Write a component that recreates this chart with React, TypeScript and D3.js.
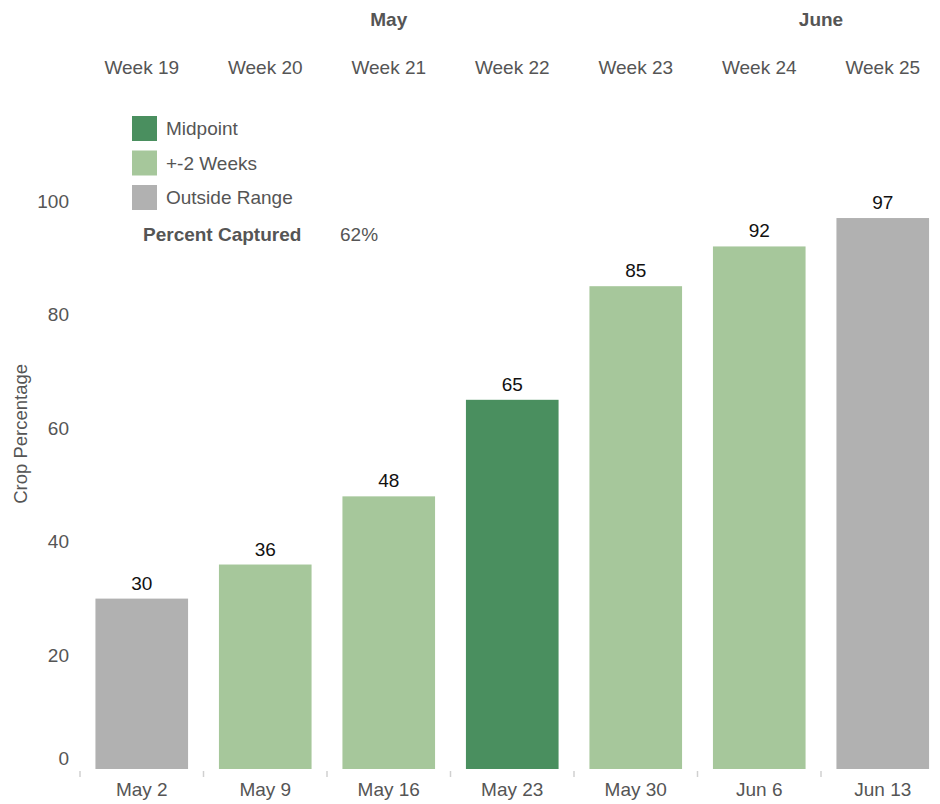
import React, { useRef, useEffect } from 'react';
import * as d3 from 'd3';

const dates = ['May 2', 'May 9', 'May 16', 'May 23', 'May 30', 'Jun 6', 'Jun 13'];
const weeks = ['Week 19', 'Week 20', 'Week 21', 'Week 22', 'Week 23', 'Week 24', 'Week 25'];
const months = ['May', 'May', 'May', 'May', 'May', 'June', 'June'];
const values = [30, 36, 48, 65, 85, 92, 97];
const groups = ['Outside Range', '+-2 Weeks', '+-2 Weeks', 'Midpoint', '+-2 Weeks', '+-2 Weeks', 'Outside Range'];
const legendItems = ['Midpoint', '+-2 Weeks', 'Outside Range'];
const legendColors = ['#4a8f5f', '#a6c79b', '#b1b1b1'];
const yTicks = [0, 20, 40, 60, 80, 100];
const percentCaptured = '62%';

export default function App() {
    const svgRef = useRef<SVGSVGElement | null>(null);

    useEffect(() => {
        const width = 940;
        const height = 804;
        const font = 'Liberation Sans, Arial, sans-serif';
        const grey = '#555555';
        const fs = 19;

        d3.select(svgRef.current).selectAll('*').remove();

        const svg = d3.select(svgRef.current).attr('width', width).attr('height', height);

        const x = d3
            .scaleBand()
            .domain(dates)
            .range([80, 944.5])
            .paddingInner(0.25)
            .paddingOuter(0.125);

        const y = d3.scaleLinear().domain([0, 100]).range([769, 201]);

        const color = d3.scaleOrdinal<string, string>().domain(legendItems).range(legendColors);

        // bars
        svg.selectAll('rect.bar')
            .data(values)
            .join('rect')
            .attr('class', 'bar')
            .attr('x', (_, i) => x(dates[i])!)
            .attr('y', (d) => y(d))
            .attr('width', x.bandwidth())
            .attr('height', (d) => y(0) - y(d))
            .attr('fill', (_, i) => color(groups[i]));

        // value labels
        svg.selectAll('text.value')
            .data(values)
            .join('text')
            .attr('class', 'value')
            .attr('x', (_, i) => x(dates[i])! + x.bandwidth() / 2)
            .attr('y', (d) => y(d) - 9)
            .attr('text-anchor', 'middle')
            .attr('font-family', font)
            .attr('font-size', fs)
            .attr('fill', '#111')
            .text((d) => d);

        // x ticks at band boundaries
        const step = x.step();
        dates.forEach((d, i) => {
            const tx = x(d)! - (step - x.bandwidth()) / 2;
            svg.append('line')
                .attr('x1', tx)
                .attr('x2', tx)
                .attr('y1', 771)
                .attr('y2', 777)
                .attr('stroke', '#d0d0d0')
                .attr('stroke-width', 1.5);
            svg.append('text')
                .attr('x', x(d)! + x.bandwidth() / 2)
                .attr('y', 796)
                .attr('text-anchor', 'middle')
                .attr('font-family', font)
                .attr('font-size', fs)
                .attr('fill', grey)
                .text(d);
            svg.append('text')
                .attr('x', x(d)! + x.bandwidth() / 2)
                .attr('y', 74)
                .attr('text-anchor', 'middle')
                .attr('font-family', font)
                .attr('font-size', fs)
                .attr('fill', grey)
                .text(weeks[i]);
        });

        // month headers
        const monthNames = Array.from(new Set(months));
        monthNames.forEach((m) => {
            const centers = dates
                .filter((_, i) => months[i] === m)
                .map((d) => x(d)! + x.bandwidth() / 2);
            svg.append('text')
                .attr('x', d3.mean(centers)!)
                .attr('y', 26)
                .attr('text-anchor', 'middle')
                .attr('font-family', font)
                .attr('font-size', fs)
                .attr('font-weight', 'bold')
                .attr('fill', grey)
                .text(m);
        });

        // y axis labels
        yTicks.forEach((t) => {
            svg.append('text')
                .attr('x', 69)
                .attr('y', t === 0 ? y(t) - 11 : y(t))
                .attr('dy', '0.35em')
                .attr('text-anchor', 'end')
                .attr('font-family', font)
                .attr('font-size', fs)
                .attr('fill', grey)
                .text(t);
        });

        svg.append('text')
            .attr('transform', `translate(27, ${y(59)}) rotate(-90)`)
            .attr('text-anchor', 'middle')
            .attr('font-family', font)
            .attr('font-size', 18.5)
            .attr('fill', grey)
            .text('Crop Percentage');

        // legend
        legendItems.forEach((item, i) => {
            const ly = 116 + i * 34.5;
            svg.append('rect')
                .attr('x', 132)
                .attr('y', ly)
                .attr('width', 25)
                .attr('height', 25)
                .attr('fill', color(item));
            svg.append('text')
                .attr('x', 166)
                .attr('y', ly + 12.5)
                .attr('dy', '0.35em')
                .attr('font-family', font)
                .attr('font-size', fs)
                .attr('fill', grey)
                .text(item);
        });

        svg.append('text')
            .attr('x', 143)
            .attr('y', 241)
            .attr('font-family', font)
            .attr('font-size', fs)
            .attr('font-weight', 'bold')
            .attr('fill', grey)
            .text('Percent Captured');

        svg.append('text')
            .attr('x', 340)
            .attr('y', 241)
            .attr('font-family', font)
            .attr('font-size', fs)
            .attr('fill', grey)
            .text(percentCaptured);
    }, []);

    return <svg ref={svgRef} style={{ position: 'absolute', left: 0, top: 0 }}></svg>;
}
